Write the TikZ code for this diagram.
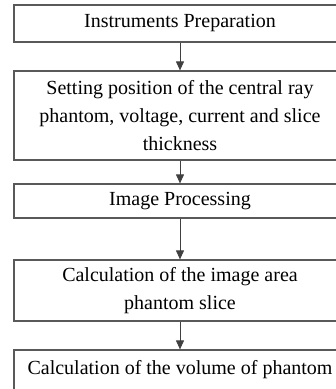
\documentclass[tikz,border=0pt]{standalone}
\usepackage{fontspec}
\setmainfont{Liberation Serif}
\usetikzlibrary{arrows.meta}
\begin{document}
\begin{tikzpicture}[x=1pt,y=-1pt,
  stepbox/.style={draw=black!65, line width=1.2pt, rectangle, minimum width=332pt,
    inner sep=0pt, align=center, font=\fontsize{20}{28}\selectfont, text=black},
  flow/.style={draw=black!75, line width=0.9pt, -{Triangle[width=8pt,length=9pt]}}]
\useasboundingbox (0,0) rectangle (336,389);
\clip (0,0) rectangle (336,389);
\node[stepbox, minimum height=37pt] (b1) at (180,23.5) {Instruments Preparation};
\node[stepbox, minimum height=89pt] (b2) at (180,115.5) {Setting position of the central ray\\phantom, voltage, current and slice\\thickness};
\node[stepbox, minimum height=34pt] (b3) at (180,201) {Image Processing};
\node[stepbox, minimum height=61pt] (b4) at (180,290.5) {Calculation of the image area\\phantom slice};
\node[stepbox, minimum height=40pt] (b5) at (180,370) {Calculation of the volume of phantom};
\draw[flow] (b1) -- (b2);
\draw[flow] (b2) -- (b3);
\draw[flow] (b3) -- (b4);
\draw[flow] (b4) -- (b5);
\end{tikzpicture}
\end{document}
